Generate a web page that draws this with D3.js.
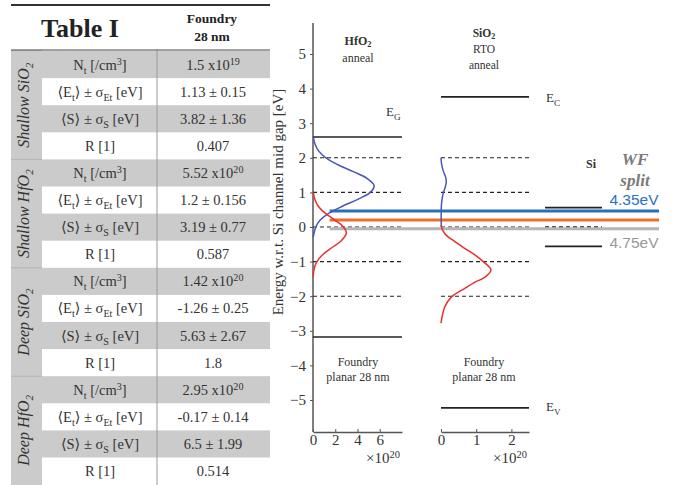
<!DOCTYPE html>
<html><head><meta charset="utf-8">
<script src="https://cdn.jsdelivr.net/npm/d3@7"></script>
<style>html,body{margin:0;padding:0;background:#fff;} svg{display:block;}</style>
</head><body>
<div id="chart"></div>
<script>
// ---------- Table data ----------
const groupLabels = [
  [["Shallow SiO", ""], ["2", "sub"]],
  [["Shallow HfO", ""], ["2", "sub"]],
  [["Deep SiO", ""], ["2", "sub"]],
  [["Deep HfO", ""], ["2", "sub"]]
];
const paramLabels = [
  [["N", ""], ["t", "sub"], [" [/cm", ""], ["3", "sup"], ["]", ""]],
  [["\u27E8E", ""], ["t", "sub"], ["\u27E9 \u00B1 \u03C3", ""], ["Et", "sub"], [" [eV]", ""]],
  [["\u27E8S\u27E9 \u00B1 \u03C3", ""], ["S", "sub"], [" [eV]", ""]],
  [["R [1]", ""]]
];
const ntMantissa = ["1.5", "5.52", "1.42", "2.95"];
const ntExponent = ["19", "20", "20", "20"];
const etMean = ["1.13", "1.2", "-1.26", "-0.17"];
const etSigma = ["0.15", "0.156", "0.25", "0.14"];
const sMean = ["3.82", "3.19", "5.63", "6.5"];
const sSigma = ["1.36", "0.77", "2.67", "1.99"];
const rValue = ["0.407", "0.587", "1.8", "0.514"];

// ---------- Band diagram data (energy eV, density x1e20) ----------
const yTicks = [-5, -4, -3, -2, -1, 0, 1, 2, 3, 4, 5];
const hfTicks = [0, 2, 4, 6];
const siTicks = [0, 1, 2];
const hfDashed = [2, 1, 0, -1, -2];
const siDashed = [2, 1, 0, -1, -2];
const hfBands = [2.6, -3.18];      // HfO2 E_G / valence edges
const sioBands = [3.76, -5.23];    // SiO2 E_C / E_V
const siBandsSolid = [0.56, -0.56];
const siBandsDashed = [0];
const wfLevels = [0.46, 0.2, -0.05];
const wfColors = ["#2571bd", "#f26a2b", "#b5b5b5"];

const hfBlue = [[2.6,0.03],[2.4,0.18],[2.2,0.5],[2.0,1.16],[1.8,2.24],[1.6,3.62],[1.4,4.88],[1.2,5.49],[1.0,5.15],[0.8,4.03],[0.6,2.64],[0.4,1.44],[0.2,0.65],[0.0,0.25],[-0.2,0.08],[-0.3,0.02]];
const hfRed = [[1.0,0.03],[0.8,0.16],[0.6,0.47],[0.4,1.09],[0.2,1.96],[0.0,2.74],[-0.17,3.0],[-0.4,2.54],[-0.6,1.68],[-0.8,0.87],[-1.0,0.35],[-1.2,0.11],[-1.45,0.01]];
const siBlue = [[2.0,0.0],[1.8,0.02],[1.6,0.07],[1.45,0.13],[1.3,0.15],[1.15,0.12],[1.0,0.07],[0.8,0.03],[0.6,0.01],[0.3,0.005],[0.0,0.01]];
const siRed = [[0.05,0.0],[-0.1,0.05],[-0.25,0.16],[-0.4,0.37],[-0.6,0.65],[-0.8,0.95],[-1.0,1.2],[-1.24,1.42],[-1.44,1.26],[-1.62,0.92],[-1.82,0.6],[-2.02,0.3],[-2.3,0.11],[-2.55,0.04],[-2.78,0.0]];

// ---------- Setup ----------
const W = 675, H = 485;
const svg = d3.select("#chart").append("svg").attr("width", W).attr("height", H);
const SERIF = "'Liberation Serif', 'DejaVu Serif', serif";
const SANS = "'Liberation Sans', Arial, sans-serif";

function rich(sel, segs, subShift) {
  let cur = 0;
  const sub = subShift == null ? 4 : subShift;
  segs.forEach(([t, k]) => {
    const target = k === "sub" ? sub : k === "sup" ? -5 : 0;
    const ts = sel.append("tspan").text(t).attr("dy", target - cur);
    if (k) ts.attr("font-size", "0.7em");
    cur = target;
  });
}

// ---------- Table ----------
const tb = svg.append("g");
const tX0 = 11, tX1 = 270, colA = 42, colB = 157;
const top0 = 51, rh = 27.1;
const nRows = 16;
tb.append("rect").attr("x", tX0).attr("y", 50).attr("width", colA - tX0).attr("height", H - 50).attr("fill", "#cbcbcb");
for (let i = 0; i < nRows; i++) {
  const r = i % 4;
  if (r % 2 === 0) {
    tb.append("rect").attr("x", colA).attr("y", top0 + i * rh).attr("width", tX1 - colA).attr("height", rh).attr("fill", "#cbcbcb");
  }
}
for (let gi = 1; gi < 4; gi++) {
  tb.append("line").attr("x1", tX0).attr("x2", colA).attr("y1", top0 + gi * 4 * rh).attr("y2", top0 + gi * 4 * rh).attr("stroke", "#b4b4b4").attr("stroke-width", 1);
}
tb.append("line").attr("x1", colB).attr("x2", colB).attr("y1", 50).attr("y2", H).attr("stroke", "#9a9a9a").attr("stroke-width", 1);
tb.append("line").attr("x1", tX0).attr("x2", tX1).attr("y1", 5).attr("y2", 5).attr("stroke", "#333").attr("stroke-width", 2);
tb.append("line").attr("x1", tX0).attr("x2", tX1).attr("y1", 50).attr("y2", 50).attr("stroke", "#444").attr("stroke-width", 1.2);

tb.append("text").attr("x", 80).attr("y", 37).attr("text-anchor", "middle").attr("font-family", SERIF)
  .attr("font-weight", "bold").attr("font-size", 26).attr("fill", "#222").text("Table I");
tb.append("text").attr("x", 212).attr("y", 23).attr("text-anchor", "middle").attr("font-family", SERIF)
  .attr("font-weight", "bold").attr("font-size", 13.5).attr("fill", "#222").text("Foundry");
tb.append("text").attr("x", 212).attr("y", 41).attr("text-anchor", "middle").attr("font-family", SERIF)
  .attr("font-weight", "bold").attr("font-size", 13.5).attr("fill", "#222").text("28 nm");

for (let g = 0; g < 4; g++) {
  const cy = top0 + (g * 4 + 2) * rh;
  const t = tb.append("text").attr("transform", `translate(29,${cy}) rotate(-90)`).attr("text-anchor", "middle")
    .attr("font-family", SERIF).attr("font-style", "italic").attr("font-size", 16).attr("fill", "#333");
  rich(t, groupLabels[g]);
  const vals = [
    [[ntMantissa[g] + " x10", ""], [ntExponent[g], "sup"]],
    [[etMean[g] + " \u00B1 " + etSigma[g], ""]],
    [[sMean[g] + " \u00B1 " + sSigma[g], ""]],
    [[rValue[g], ""]]
  ];
  for (let r = 0; r < 4; r++) {
    const i = g * 4 + r;
    const yy = top0 + i * rh + rh / 2 + 5;
    const p = tb.append("text").attr("x", 100).attr("y", yy).attr("text-anchor", "middle")
      .attr("font-family", SERIF).attr("font-size", 14.5).attr("fill", "#333");
    rich(p, paramLabels[r]);
    const v = tb.append("text").attr("x", 213).attr("y", yy).attr("text-anchor", "middle")
      .attr("font-family", SERIF).attr("font-size", 14.5).attr("fill", "#333");
    rich(v, vals[r]);
  }
}

// ---------- Band diagram ----------
const y = d3.scaleLinear().domain([-5, 5]).range([400, 54]);
const hfX = d3.scaleLinear().domain([0, 8]).range([313, 402]);
const siX = d3.scaleLinear().domain([0, 2.5]).range([441, 529]);
const axisY0 = 432;
const ch = svg.append("g");

// y axis
const ya = ch.append("g").attr("transform", `translate(${hfX(0)},0)`)
  .call(d3.axisLeft(y).tickValues(yTicks).tickSize(3).tickPadding(4)
    .tickFormat(d => d < 0 ? "\u2212" + Math.abs(d) : String(d)));
ya.select(".domain").remove();
ya.selectAll("line").attr("stroke", "#555");
ya.selectAll("text").attr("font-family", SERIF).attr("font-size", 15).attr("fill", "#333");
ch.append("line").attr("x1", hfX(0)).attr("x2", hfX(0)).attr("y1", 23).attr("y2", axisY0).attr("stroke", "#555").attr("stroke-width", 1.5);

ch.append("text").attr("transform", `translate(283,202) rotate(-90)`).attr("text-anchor", "middle")
  .attr("font-family", SERIF).attr("font-size", 15).attr("fill", "#333").text("Energy w.r.t. Si channel mid gap [eV]");

// x axes
function xAxis(scale, ticks, lx) {
  const a = ch.append("g").attr("transform", `translate(0,${axisY0})`)
    .call(d3.axisBottom(scale).tickValues(ticks).tickFormat(d3.format("d")).tickSizeInner(-3).tickSizeOuter(0).tickPadding(2));
  a.select(".domain").attr("stroke", "#555").attr("stroke-width", 1.5);
  a.selectAll("line").attr("stroke", "#555");
  a.selectAll("text").attr("font-family", SERIF).attr("font-size", 15).attr("fill", "#333");
  const t = ch.append("text").attr("x", lx).attr("y", 463).attr("text-anchor", "middle")
    .attr("font-family", SERIF).attr("font-size", 15).attr("fill", "#333");
  rich(t, [["\u00D710", ""], ["20", "sup"]]);
}
xAxis(hfX, hfTicks, 383);
xAxis(siX, siTicks, 510);

// dashed and solid levels
function hline(x1, x2, e, dashed, w) {
  ch.append("line").attr("x1", x1).attr("x2", x2).attr("y1", y(e)).attr("y2", y(e))
    .attr("stroke", "#222").attr("stroke-width", w || 1.3)
    .attr("stroke-dasharray", dashed ? "4,3" : null);
}
hfDashed.forEach(e => hline(hfX(0), hfX(8), e, true, 1.1));
siDashed.forEach(e => hline(siX(0), siX(2.5), e, true, 1.1));
hfBands.forEach(e => hline(hfX(0), hfX(8), e, false, 1.5));
sioBands.forEach(e => hline(siX(0), siX(2.5), e, false, 1.8));
siBandsSolid.forEach(e => hline(545, 602, e, false, 1.6));
siBandsDashed.forEach(e => hline(545, 602, e, true, 1.3));

// WF split lines
wfLevels.forEach((e, i) => {
  ch.append("line").attr("x1", hfX(1.5)).attr("x2", 659).attr("y1", y(e)).attr("y2", y(e))
    .attr("stroke", wfColors[i]).attr("stroke-width", 3);
});

// curves
function curve(data, xs, color) {
  const line = d3.line().x(d => xs(d[1])).y(d => y(d[0])).curve(d3.curveCatmullRom);
  ch.append("path").datum(data).attr("d", line).attr("fill", "none").attr("stroke", color).attr("stroke-width", 1.5);
}
curve(hfBlue, hfX, "#4a56b8");
curve(hfRed, hfX, "#e8302f");
curve(siBlue, siX, "#4a56b8");
curve(siRed, siX, "#e8302f");

// labels
function label(x, yy, segs, opts) {
  opts = opts || {};
  const t = ch.append("text").attr("x", x).attr("y", yy).attr("text-anchor", opts.anchor || "middle")
    .attr("font-family", opts.font || SERIF).attr("font-size", opts.size || 12).attr("fill", opts.fill || "#333");
  if (opts.weight) t.attr("font-weight", opts.weight);
  if (opts.style) t.attr("font-style", opts.style);
  rich(t, segs, opts.sub);
}
label(358, 45, [["HfO", ""], ["2", "sub"]], {weight: "bold", size: 12, sub: 2});
label(358, 62, [["anneal", ""]], {size: 12});
label(386, 116, [["E", ""], ["G", "sub"]], {anchor: "start", size: 13});
label(484, 37, [["SiO", ""], ["2", "sub"]], {weight: "bold", size: 11.5, sub: 2});
label(484, 53, [["RTO", ""]], {size: 11.5});
label(484, 69, [["anneal", ""]], {size: 11.5});
label(546, 102, [["E", ""], ["C", "sub"]], {anchor: "start", size: 13});
label(546, 411, [["E", ""], ["V", "sub"]], {anchor: "start", size: 13});
label(358, 366, [["Foundry", ""]], {size: 12});
label(358, 381, [["planar 28 nm", ""]], {size: 12});
label(484, 366, [["Foundry", ""]], {size: 12});
label(484, 381, [["planar 28 nm", ""]], {size: 12});
label(591, 168, [["Si", ""]], {weight: "bold", size: 12});
label(635, 165, [["WF", ""]], {weight: "bold", style: "italic", size: 17, fill: "#7a7a7a"});
label(635, 186, [["split", ""]], {weight: "bold", style: "italic", size: 17, fill: "#7a7a7a"});
label(634, 205, [["4.35eV", ""]], {font: SANS, size: 15.5, fill: "#2b72c0"});
label(634, 248, [["4.75eV", ""]], {font: SANS, size: 15.5, fill: "#999"});
</script>
</body></html>
